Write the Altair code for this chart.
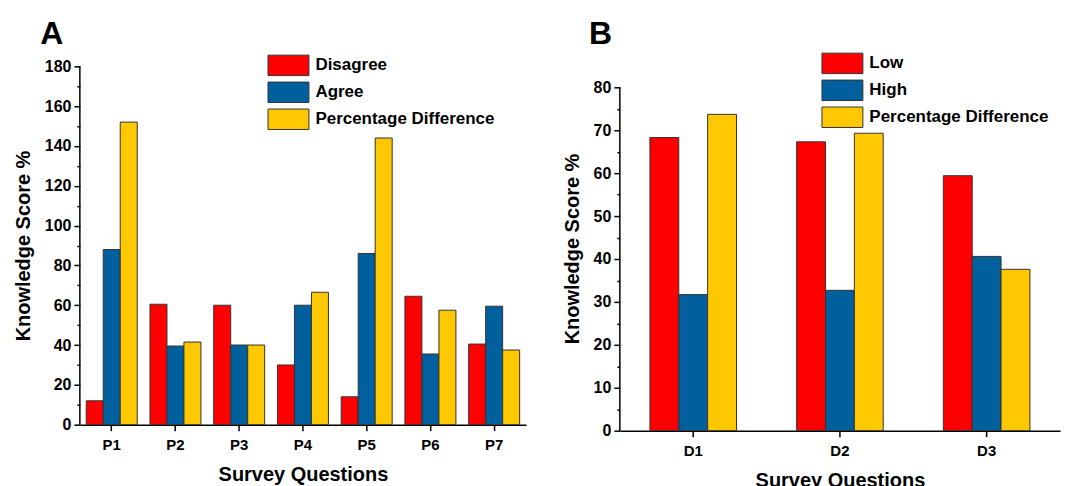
import altair as alt
import pandas as pd

# Panel A data
questions_a = ["P1", "P2", "P3", "P4", "P5", "P6", "P7"]
series_a = ["Disagree", "Agree", "Percentage Difference"]
disagree = [12, 60.5, 60, 30, 14, 64.5, 40.5]
agree = [88, 39.5, 40, 60, 86, 35.5, 59.5]
pct_diff_a = [152, 41.5, 40, 66.5, 144, 57.5, 37.5]

# Panel B data
questions_b = ["D1", "D2", "D3"]
series_b = ["Low", "High", "Percentage Difference"]
low = [68.3, 67.3, 59.4]
high = [31.7, 32.7, 40.6]
pct_diff_b = [73.7, 69.3, 37.6]

colors = ["#FF0000", "#00609E", "#FFC800"]
FONT = "Liberation Sans"

rows_a = []
for i, q in enumerate(questions_a):
    for s, vals in zip(series_a, [disagree, agree, pct_diff_a]):
        rows_a.append({"q": q, "s": s, "v": vals[i]})
df_a = pd.DataFrame(rows_a)

rows_b = []
for i, q in enumerate(questions_b):
    for s, vals in zip(series_b, [low, high, pct_diff_b]):
        rows_b.append({"q": q, "s": s, "v": vals[i]})
df_b = pd.DataFrame(rows_b)

# wide rectangle legend symbol (2:1), sized by its height
RECT = "M-2,-1H2V1H-2Z"


def panel(df, cats, series, ymax, ystep, letter, w, h, dom_max, legx, legy,
          title_offset, pin, pout):
    minor = ystep / 2
    nticks = int(round(ymax / minor)) + 1
    vals = [round(i * minor, 4) for i in range(nticks)]
    yscale = alt.Scale(domain=[0, dom_max], nice=False, zero=True)
    yaxis = alt.Axis(title="Knowledge Score %", values=vals, domain=False,
                     labelExpr=f"datum.value % {ystep} === 0 ? datum.label : ''",
                     labelOverlap=False, labelFontSize=16, titleFontSize=20,
                     tickSize={"condition": {"test": f"datum.value % {ystep} === 0", "value": 6}, "value": 3},
                     titlePadding=11, labelPadding=3)
    bars = alt.Chart(df).mark_bar(stroke="#333333", strokeWidth=1).encode(
        x=alt.X("q:N", sort=cats,
                scale=alt.Scale(paddingInner=pin, paddingOuter=pout),
                axis=alt.Axis(title="Survey Questions", labelAngle=0, tickSize=6,
                              labelPadding=7, titlePadding=12, titleFontSize=20)),
        xOffset=alt.XOffset("s:N", sort=series,
                            scale=alt.Scale(paddingInner=0, paddingOuter=0)),
        y=alt.Y("v:Q", scale=yscale, axis=yaxis),
        color=alt.Color("s:N", sort=series,
                        scale=alt.Scale(domain=series, range=colors),
                        legend=alt.Legend(title=None, orient="none", legendX=legx, legendY=legy,
                                          symbolType=RECT, symbolSize=420,
                                          symbolStrokeColor="#333333", symbolStrokeWidth=1,
                                          symbolOpacity=1,
                                          labelFont=FONT, labelFontSize=17, labelFontWeight="bold",
                                          labelColor="black", labelOffset=16, rowPadding=1,
                                          labelLimit=400)),
    )
    # left axis line spanning exactly 0..ymax
    axis_line = alt.Chart(pd.DataFrame({"y0": [0], "y1": [ymax]})).mark_rule(
        color="black", strokeWidth=1.5
    ).encode(
        x=alt.value(0),
        y=alt.Y("y0:Q", scale=yscale, axis=yaxis),
        y2="y1:Q",
    )
    return alt.layer(bars, axis_line).properties(
        width=w, height=h,
        title=alt.TitleParams(letter, anchor="start", fontSize=32, font=FONT, fontWeight="bold",
                              dx=27, offset=title_offset, color="black"),
    )


h_b = 365
chart_a = panel(df_a, questions_a, series_a, 180, 20, "A", 447, 359, 180, 198, -12, 3, 0.2, 0.1)
chart_b = panel(df_b, questions_b, series_b, 80, 10, "B", 441, h_b, 80 * h_b / 344, 212, -14, 1, 0.41, 0.205)

chart = alt.hconcat(chart_a, chart_b, spacing=36).resolve_scale(
    color="independent", xOffset="independent", x="independent", y="independent"
).configure_view(stroke=None).configure_axis(
    grid=False, domainColor="black", domainWidth=1.5, tickColor="black", tickWidth=1.5,
    labelFont=FONT, labelFontSize=15, labelFontWeight="bold", labelColor="black",
    titleFont=FONT, titleFontSize=18, titleFontWeight="bold", titleColor="black",
).properties(padding={"left": 5, "top": 10, "right": 5, "bottom": 5})

chart.save("out.html", embed_options={"renderer": "svg", "actions": False})
